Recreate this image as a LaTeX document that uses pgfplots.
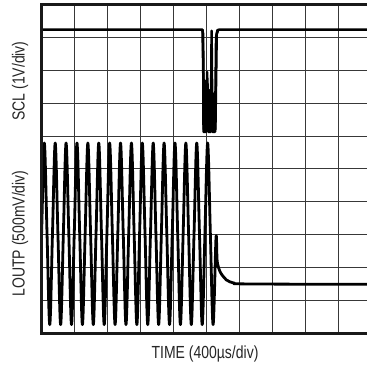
\documentclass[border=0pt]{standalone}
\usepackage{fontspec}
\setmainfont[FakeStretch=0.80]{Liberation Sans}
\usepackage{pgfplots}
\pgfplotsset{compat=1.18}
\begin{document}
\begin{tikzpicture}
\begin{axis}[name=ax, scale only axis, width=325.5bp, height=329bp,
  xmin=0, xmax=9.864, ymin=0, ymax=10,
  xtick={1,...,9}, ytick={1,...,9}, xticklabels={}, yticklabels={},
  major tick length=0pt, grid=major, grid style={black!78, line width=1bp},
  axis line style={draw=none}, clip=true]
% SCL trace
\addplot[black, line width=2.5bp, line join=round] coordinates {
(0,9.24) (4.87,9.24) (4.90,9.1) (4.91,6.13) (4.99,6.13) (5.02,7.95) (5.05,6.13)
(5.13,6.13) (5.155,9.20) (5.18,6.13) (5.26,6.13) (5.29,9.0) (5.33,9.22) (5.40,9.24) (10,9.24)};
\addplot[black, line width=2.5bp, line join=round] coordinates {
(4.88,9.24) (4.93,6.2) (5.00,6.2) (5.03,7.6) (5.07,6.2) (5.22,6.2) (5.27,6.2) (5.31,9.1) (5.36,9.24)};
\addplot[black, line width=2.5bp, line join=round] coordinates {
(4.92,6.2) (4.94,7.7) (4.96,6.2) (5.08,6.2) (5.10,7.4) (5.12,6.2) (5.20,6.2) (5.23,7.3) (5.25,6.2)};
% LOUTP trace
\addplot[black, line width=2.8bp, smooth, tension=0.55, line join=round] coordinates {
(-0.08,0.27) (0.0025,3.03)
(0.085,5.79) (0.1675,3.03) (0.250,0.27) (0.3325,3.03)
(0.415,5.79) (0.4975,3.03) (0.580,0.27) (0.6625,3.03)
(0.745,5.79) (0.8275,3.03) (0.910,0.27) (0.9925,3.03)
(1.075,5.79) (1.1575,3.03) (1.240,0.27) (1.3225,3.03)
(1.405,5.79) (1.4875,3.03) (1.570,0.27) (1.6525,3.03)
(1.735,5.79) (1.8175,3.03) (1.900,0.27) (1.9825,3.03)
(2.065,5.79) (2.1475,3.03) (2.230,0.27) (2.3125,3.03)
(2.395,5.79) (2.4775,3.03) (2.560,0.27) (2.6425,3.03)
(2.725,5.79) (2.8075,3.03) (2.890,0.27) (2.9725,3.03)
(3.055,5.79) (3.1375,3.03) (3.220,0.27) (3.3025,3.03)
(3.385,5.79) (3.4675,3.03) (3.550,0.27) (3.6325,3.03)
(3.715,5.79) (3.7975,3.03) (3.880,0.27) (3.9625,3.03)
(4.045,5.79) (4.1275,3.03) (4.210,0.27) (4.2925,3.03)
(4.375,5.79) (4.4575,3.03) (4.540,0.27) (4.6225,3.03)
(4.705,5.79) (4.7875,3.03) (4.870,0.27) (4.9525,3.03)
(5.035,5.79) (5.1175,3.03) (5.200,0.27) (5.288,2.91)
(5.32,2.25) (5.358,2.03) (5.42,1.86) (5.51,1.73) (5.60,1.63) (5.71,1.57)
(5.85,1.53) (5.96,1.51) (7.5,1.50) (10,1.50)};
\end{axis}
\draw[line width=3.5bp, black!90, line join=miter]
  ([xshift=5bp]ax.north east) -- (ax.north west) -- (ax.south west) -- ([xshift=5bp]ax.south east);
\node[rotate=90, text=black!85, font=\fontsize{17.5bp}{19bp}\selectfont]
  at ([xshift=-21.5bp, yshift=252.5bp]ax.south west) {SCL (1V/div)};
\node[rotate=90, text=black!85, font=\fontsize{17.5bp}{19bp}\selectfont]
  at ([xshift=-21.5bp, yshift=100bp]ax.south west) {LOUTP (500mV/div)};
\node[text=black!85, font=\fontsize{17.5bp}{19bp}\selectfont]
  at ([xshift=163.5bp, yshift=-20bp]ax.south west) {TIME (400µs/div)};
\pgfresetboundingbox
\path ([xshift=-41.5bp,yshift=-33.5bp]ax.south west) rectangle ([yshift=4.5bp]ax.north east);
\end{tikzpicture}
\end{document}
